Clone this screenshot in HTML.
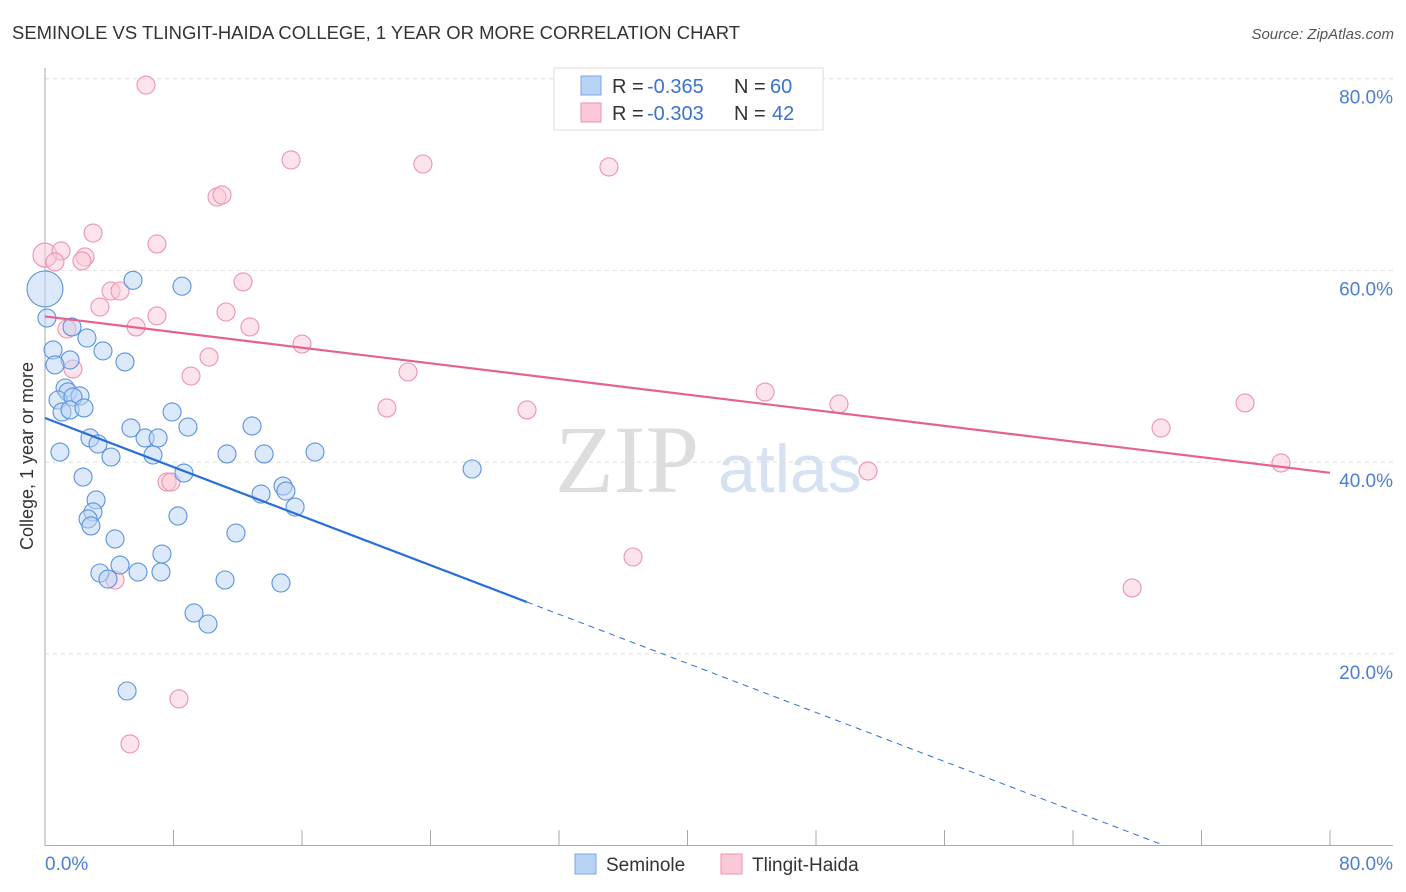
<!DOCTYPE html>
<html><head><meta charset="utf-8"><style>
body{margin:0;background:#fff;font-family:"Liberation Sans",sans-serif}
svg{display:block}
</style></head><body>
<svg id="c" width="1406" height="892" xmlns="http://www.w3.org/2000/svg">
<text x="12" y="39" font-size="18" fill="#333" textLength="728" lengthAdjust="spacingAndGlyphs">SEMINOLE VS TLINGIT-HAIDA COLLEGE, 1 YEAR OR MORE CORRELATION CHART</text>
<text x="1394" y="39" font-size="15" fill="#555" font-style="italic" text-anchor="end">Source: ZipAtlas.com</text>
<text x="33" y="456" font-size="18" fill="#333" text-anchor="middle" transform="rotate(-90 33 456)">College, 1 year or more</text>
<text x="555" y="492" font-size="96" fill="#ddd" font-family="Liberation Serif,serif">ZIP</text>
<text x="718" y="492" font-size="68" fill="#d6e2f3">atlas</text>
<g id="grid"></g><g id="marks"></g>
<g>
<rect x="554" y="68" width="269" height="62" fill="#fff" stroke="#ddd"/>
<rect x="581" y="76" width="20" height="19" fill="#b9d3f5" stroke="#7aa6e6"/>
<rect x="581" y="103" width="20" height="19" fill="#fbc8d7" stroke="#eb94ae"/>
<g font-size="20">
<text x="612" y="93" fill="#333">R =</text><text x="647" y="93" fill="#3a72d0">-0.365</text>
<text x="734" y="93" fill="#333">N =</text><text x="770" y="93" fill="#3a72d0">60</text></g>
<g font-size="20">
<text x="612" y="120" fill="#333">R =</text><text x="647" y="120" fill="#3a72d0">-0.303</text>
<text x="734" y="120" fill="#333">N =</text><text x="772" y="120" fill="#3a72d0">42</text></g>
</g>
<g>
<rect x="575" y="854" width="21" height="20" fill="#b9d3f5" stroke="#7aa6e6"/>
<text x="606" y="871" font-size="19" fill="#333">Seminole</text>
<rect x="721" y="854" width="21" height="20" fill="#fbc8d7" stroke="#eb94ae"/>
<text x="752" y="871" font-size="19" fill="#333">Tlingit-Haida</text>
</g>
</svg>
<script>
const blueX=[5.48,8.53,0.12,1.68,2.61,0.50,3.61,1.56,4.98,0.62,1.25,1.43,2.18,0.81,1.74,1.06,1.56,2.43,5.35,7.91,8.90,12.89,2.80,3.30,6.23,7.04,0.93,4.11,6.72,11.33,13.64,16.81,26.59,8.65,2.37,14.82,15.0,13.45,15.57,3.18,2.99,2.68,2.86,8.28,11.89,4.36,7.28,4.67,3.42,3.92,5.79,7.22,11.21,14.69,9.28,10.15,5.11,0];
const blueY=[58.97,58.35,55.03,54.1,52.95,51.7,51.6,50.66,50.45,50.14,47.73,47.32,46.9,46.48,46.79,45.23,45.44,45.65,43.56,45.23,43.66,43.77,42.52,41.89,42.52,42.52,41.05,40.53,40.74,40.85,40.85,41.05,39.28,38.86,38.44,37.5,36.98,36.67,35.31,36.05,34.8,34.07,33.34,34.38,32.6,31.98,30.41,29.26,28.43,27.8,28.53,28.53,27.7,27.39,24.26,23.11,16.12,58.07];
const pinkX=[6.29,15.32,23.53,35.11,10.71,11.02,2.99,6.97,0,1.0,0.62,2.49,2.30,12.33,4.11,4.67,3.42,6.97,11.27,12.76,5.67,1.37,16.0,10.21,1.74,9.09,22.6,44.83,49.43,74.71,21.29,30.01,69.48,51.24,76.95,7.6,7.84,36.61,67.68,4.36,8.34,5.29];
const pinkY=[79.34,71.52,71.1,70.79,67.66,67.87,63.9,62.76,61.6,62.03,60.88,61.4,60.99,58.8,57.85,57.85,56.18,55.25,55.66,54.1,54.1,53.89,52.32,50.96,49.71,48.98,49.4,47.31,46.06,46.17,45.65,45.44,43.56,39.07,39.91,37.92,37.92,30.1,26.87,27.7,15.3,10.6];
const yTicks=[20,40,60,80];
const blueTrend=[44.6,-0.64], pinkTrend=[55.2,-0.204];
const X=v=>45+v*1285/80, Y=v=>845.5-v*191.7/20;
const NS='http://www.w3.org/2000/svg';
function mk(p,t,a){const e=document.createElementNS(NS,t);for(const k in a)e.setAttribute(k,a[k]);p.appendChild(e);return e;}
const g=document.getElementById('grid'), m=document.getElementById('marks');
yTicks.forEach(t=>{
 const l=mk(g,'line',{x1:45,x2:1393,y1:Y(t),y2:Y(t),stroke:'#ddd','stroke-dasharray':'4,4'});
 
 
 const tx=mk(g,'text',{x:1393,y:Y(t)+25,'font-size':19,fill:'#4a7fd4','text-anchor':'end'});tx.textContent=t.toFixed(1)+'%';
 
 
});
const ax=mk(g,'path',{d:'M45,68V845.5H1393',stroke:'#aaa',fill:'none'});


for(let i=0;i<=10;i++){const tk=mk(g,'line',{x1:X(i*8),x2:X(i*8),y1:830,y2:845.5,stroke:'#aaa'});
 
 }
[['0.0%',45,'start'],['80.0%',1393,'end']].forEach(a=>{const t=mk(g,'text',{x:a[1],y:870,'font-size':19,fill:'#4a7fd4','text-anchor':a[2]});t.textContent=a[0];
 
 });
function pts(xs,ys,fill,stroke,name,bigR){xs.forEach((x,i)=>{const r=(x===0)?bigR:9;
 const c=mk(m,'circle',{cx:X(x),cy:Y(ys[i]),r:r,fill:fill,'fill-opacity':0.5,stroke:stroke,'stroke-width':1.1});
 
 });}
pts(pinkX,pinkY,'#fbc8d7','#eb94ae','point-tlingit-haida',12);
pts(blueX,blueY,'#b9d3f5','#5b93e0','point-seminole',18);
const bx0=0,bx1=30,bxe=-blueTrend[0]/blueTrend[1];
const bl=mk(m,'line',{x1:X(bx0),y1:Y(blueTrend[0]),x2:X(bx1),y2:Y(blueTrend[0]+blueTrend[1]*bx1),stroke:'#2a6fd8','stroke-width':2.2});


const bd=mk(m,'line',{x1:X(bx1),y1:Y(blueTrend[0]+blueTrend[1]*bx1),x2:X(bxe),y2:Y(0),stroke:'#2a6fd8','stroke-width':1,'stroke-dasharray':'6,5'});


const pl=mk(m,'line',{x1:X(0),y1:Y(pinkTrend[0]),x2:X(80),y2:Y(pinkTrend[0]+pinkTrend[1]*80),stroke:'#e5628f','stroke-width':2.2});


</script>
</body></html>
